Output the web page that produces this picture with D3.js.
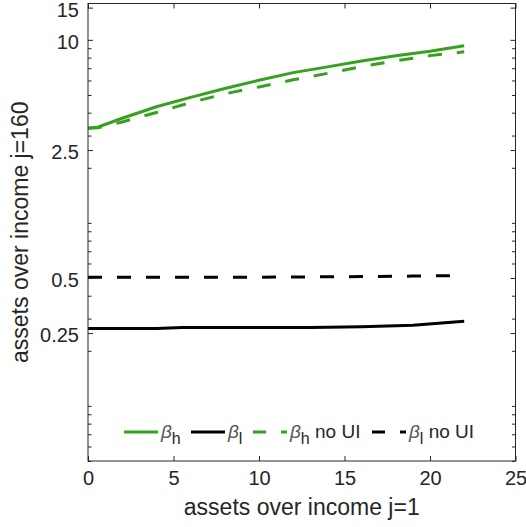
<!DOCTYPE html>
<html>
<head>
<meta charset="utf-8">
<script src="https://cdn.jsdelivr.net/npm/d3@7"></script>
<style>
  html, body { margin: 0; padding: 0; background: #fff; }
  svg { display: block; font-family: "Liberation Sans", Arial, Helvetica, sans-serif; }
</style>
</head>
<body>
<svg id="chart" width="526" height="527"></svg>
<script>
// Assets-over-income at j=1 (x) vs j=160 (y), by discount type, with and without UI
const xHigh = [0, 0.6, 2, 4, 6, 8, 10, 12, 14, 16, 18, 20, 22];
const betaHigh = [3.29, 3.34, 3.73, 4.31, 4.85, 5.42, 6.01, 6.62, 7.12, 7.66, 8.18, 8.67, 9.28];
const betaHighNoUI = [3.29, 3.31, 3.56, 4.01, 4.54, 5.07, 5.53, 6.05, 6.56, 7.14, 7.68, 8.20, 8.60];

const xLow = [0, 4, 5.5, 10, 13, 16, 19, 22];
const betaLow = [0.265, 0.265, 0.268, 0.268, 0.268, 0.271, 0.276, 0.290];
const betaLowNoUI = [0.505, 0.505, 0.505, 0.505, 0.507, 0.509, 0.512, 0.516];

const xTicks = [0, 5, 10, 15, 20, 25];
const yTicks = [0.25, 0.5, 2.5, 10, 15];
const yTickLabels = ["0.25", "0.5", "2.5", "10", "15"];

const GREEN = "#35a11f";
const BLACK = "#000000";

const series = [
  { name: "h", suffix: "", xs: xHigh, ys: betaHigh, color: GREEN, dashed: false },
  { name: "l", suffix: "", xs: xLow, ys: betaLow, color: BLACK, dashed: false },
  { name: "h", suffix: " no UI", xs: xHigh, ys: betaHighNoUI, color: GREEN, dashed: true },
  { name: "l", suffix: " no UI", xs: xLow, ys: betaLowNoUI, color: BLACK, dashed: true }
];

const svg = d3.select("#chart");
const plot = { left: 88, right: 515.5, top: 3.5, bottom: 461 };

const x = d3.scaleLinear().domain([0, 25]).range([plot.left, plot.right]);
const y = d3.scaleLog().domain([0.05, 15.8]).range([plot.bottom, plot.top]);

// minor log ticks
const minorTicks = [];
[0.01, 0.1, 1].forEach(d => {
  for (let k = 1; k <= 9; k++) {
    const v = +(k * d).toPrecision(3);
    if (v >= 0.05 && v <= 15.8 && !yTicks.includes(v)) minorTicks.push(v);
  }
});

const AX = "#262626";
const tickFont = 20;

function styleAxis(g) {
  g.select(".domain").remove();
  g.selectAll(".tick line").attr("stroke", AX).attr("stroke-width", 1);
  g.selectAll(".tick text").attr("fill", AX).attr("font-size", tickFont)
    .attr("font-family", "Liberation Sans, Arial, sans-serif");
}

// lines
const line = d3.line().x(d => x(d[0])).y(d => y(d[1]));
const linesG = svg.append("g");
series.forEach(s => {
  linesG.append("path")
    .datum(s.xs.map((v, i) => [v, s.ys[i]]))
    .attr("d", line)
    .attr("fill", "none")
    .attr("stroke", s.color)
    .attr("stroke-width", 3)
    .attr("stroke-dasharray", s.dashed ? "14,15" : null);
});

// bottom axis
svg.append("g").attr("transform", `translate(0,${plot.bottom})`)
  .call(d3.axisBottom(x).tickValues(xTicks).tickSize(-5).tickPadding(10).tickFormat(d3.format("d")))
  .call(styleAxis);
// top axis (mirrored ticks)
svg.append("g").attr("transform", `translate(0,${plot.top})`)
  .call(d3.axisTop(x).tickValues(xTicks).tickSize(-5).tickFormat(""))
  .call(styleAxis);
// left axis
svg.append("g").attr("transform", `translate(${plot.left},0)`)
  .call(d3.axisLeft(y).tickValues(yTicks).tickSize(-5).tickPadding(9)
    .tickFormat((d, i) => yTickLabels[i]))
  .call(styleAxis)
  .call(g => g.selectAll(".tick text").attr("dy", "0.32em").attr("transform", "translate(0,2.5)"));
svg.append("g").attr("transform", `translate(${plot.left},0)`)
  .call(d3.axisLeft(y).tickValues(minorTicks).tickSize(-3.5).tickFormat(""))
  .call(styleAxis);
// right axis
svg.append("g").attr("transform", `translate(${plot.right},0)`)
  .call(d3.axisRight(y).tickValues(yTicks).tickSize(-5).tickFormat(""))
  .call(styleAxis);
svg.append("g").attr("transform", `translate(${plot.right},0)`)
  .call(d3.axisRight(y).tickValues(minorTicks).tickSize(-3.5).tickFormat(""))
  .call(styleAxis);

// frame
svg.append("rect")
  .attr("x", plot.left).attr("y", plot.top)
  .attr("width", plot.right - plot.left).attr("height", plot.bottom - plot.top)
  .attr("fill", "none").attr("stroke", AX).attr("stroke-width", 1);

// axis titles
svg.append("text")
  .attr("x", (plot.left + plot.right) / 2).attr("y", 515)
  .attr("text-anchor", "middle").attr("font-size", 23).attr("fill", AX)
  .text("assets over income j=1");
svg.append("text")
  .attr("transform", `translate(28,${(plot.top + plot.bottom) / 2}) rotate(-90)`)
  .attr("text-anchor", "middle").attr("font-size", 23).attr("fill", AX)
  .text("assets over income j=160");

// legend
const legendY = 432;
const legendX = [124, 191, 253, 372];
const legend = svg.append("g");
series.forEach((s, i) => {
  const g = legend.append("g").attr("transform", `translate(${legendX[i]},${legendY})`);
  g.append("line").attr("x1", 0).attr("x2", 34).attr("y1", 0).attr("y2", 0)
    .attr("stroke", s.color).attr("stroke-width", 3)
    .attr("stroke-dasharray", s.dashed ? "13,15" : null);
  const t = g.append("text").attr("x", 37).attr("y", 6).attr("font-size", 19).attr("fill", AX);
  t.append("tspan").attr("font-style", "italic").attr("fill", "#555").text("β");
  t.append("tspan").attr("font-size", 16).attr("dy", 6).text(s.name);
  if (s.suffix) t.append("tspan").attr("dy", -6).text(s.suffix);
});
</script>
</body>
</html>
